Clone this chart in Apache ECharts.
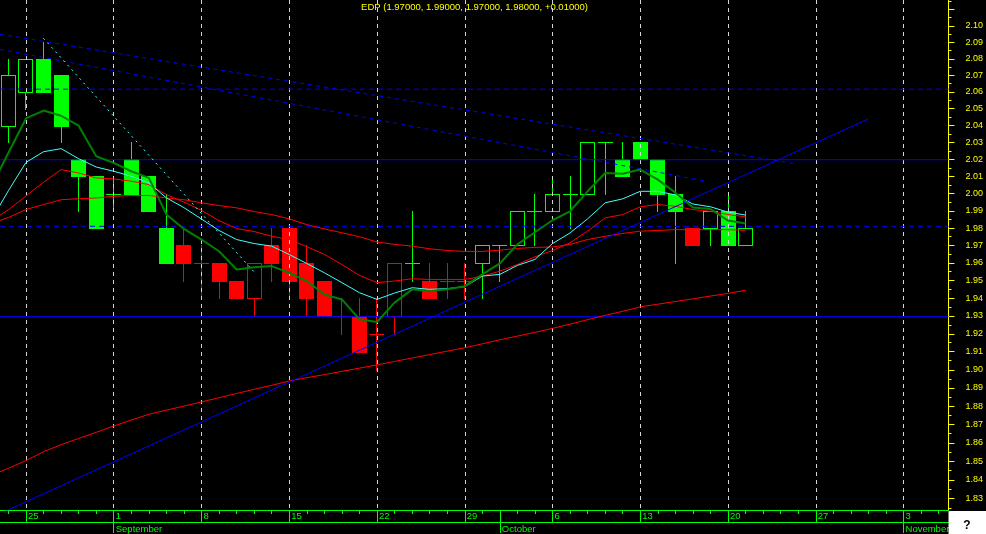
<!DOCTYPE html>
<html>
<head>
<meta charset="utf-8">
<script src="https://cdn.jsdelivr.net/npm/echarts@6/dist/echarts.min.js"></script>
<style>
  html, body { margin: 0; padding: 0; background: #000; }
  #chart { width: 986px; height: 534px; }
</style>
</head>
<body>
<div id="chart"></div>
<script>
// ---- data -------------------------------------------------------------
const SYMBOL = 'EDP';

// trading sessions (index 0 = the session before the first drawn candle)
const sessions = [
  '2008-08-21', '2008-08-22',
  '2008-08-25', '2008-08-26', '2008-08-27', '2008-08-28', '2008-08-29',
  '2008-09-01', '2008-09-02', '2008-09-03', '2008-09-04', '2008-09-05',
  '2008-09-08', '2008-09-09', '2008-09-10', '2008-09-11', '2008-09-12',
  '2008-09-15', '2008-09-16', '2008-09-17', '2008-09-18', '2008-09-19',
  '2008-09-22', '2008-09-23', '2008-09-24', '2008-09-25', '2008-09-26',
  '2008-09-29', '2008-09-30', '2008-10-01', '2008-10-02', '2008-10-03',
  '2008-10-06', '2008-10-07', '2008-10-08', '2008-10-09', '2008-10-10',
  '2008-10-13', '2008-10-14', '2008-10-15', '2008-10-16', '2008-10-17',
  '2008-10-20', '2008-10-21', '2008-10-22', '2008-10-23', '2008-10-24',
  '2008-10-27', '2008-10-28', '2008-10-29', '2008-10-30', '2008-10-31',
  '2008-11-03', '2008-11-04', '2008-11-05'
];
const monthNames = ['January', 'February', 'March', 'April', 'May', 'June', 'July',
  'August', 'September', 'October', 'November', 'December'];

// daily bars, first one on session index 1
const candleStart = 1;
const open  = [2.04, 2.06, 2.08, 2.07, 2.02, 2.01, 2.00, 2.02, 2.01, 1.98,
               1.97, 1.96, 1.96, 1.95, 1.94, 1.97, 1.98, 1.96, 1.95, 1.93,
               1.93, 1.92, 1.93, 1.96, 1.95, 1.95, 1.95, 1.96, 1.97, 1.97,
               1.99, 1.99, 2.00, 2.00, 2.03, 2.02, 2.03, 2.02, 2.00, 1.98,
               1.98, 1.99, 1.97];
const high  = [2.08, 2.08, 2.09, 2.07, 2.02, 2.01, 2.01, 2.03, 2.01, 2.00,
               1.98, 1.97, 1.96, 1.95, 1.96, 1.98, 1.98, 1.97, 1.95, 1.94,
               1.94, 1.94, 1.96, 1.99, 1.96, 1.96, 1.96, 1.97, 1.97, 1.99,
               2.00, 2.01, 2.01, 2.03, 2.03, 2.03, 2.03, 2.02, 2.01, 1.98,
               1.99, 2.00, 1.99];
const low   = [2.03, 2.05, 2.06, 2.03, 1.99, 1.98, 1.99, 2.00, 1.99, 1.96,
               1.95, 1.94, 1.94, 1.94, 1.93, 1.95, 1.94, 1.93, 1.93, 1.92,
               1.91, 1.90, 1.92, 1.95, 1.94, 1.94, 1.94, 1.94, 1.95, 1.97,
               1.97, 1.99, 1.98, 2.00, 2.00, 2.01, 2.02, 1.99, 1.96, 1.97,
               1.97, 1.97, 1.97];
const close = [2.07, 2.08, 2.06, 2.04, 2.01, 1.98, 2.00, 2.00, 1.99, 1.96,
               1.96, 1.96, 1.95, 1.94, 1.96, 1.96, 1.95, 1.94, 1.93, 1.93,
               1.91, 1.92, 1.96, 1.96, 1.94, 1.95, 1.95, 1.97, 1.97, 1.99,
               1.99, 2.00, 2.00, 2.03, 2.03, 2.01, 2.02, 2.00, 1.99, 1.97,
               1.99, 1.97, 1.98];
// bar colouring: 1 = up trend (green), -1 = down trend (red)
const barTrend = [1, 1, 1, 1, 1, 1, 1, 1, 1, 1,
                  -1, -1, -1, -1, -1, -1, -1, -1, -1, -1,
                  -1, -1, -1, 1, -1, -1, -1, 1, 1, 1,
                  1, 1, 1, 1, 1, 1, 1, 1, 1, -1,
                  1, 1, 1];

// moving averages, first value on session index 0
const maStart = 0;
const maShort = [2.0035, 2.0239, 2.0442, 2.0489, 2.0458, 2.0399, 2.0218, 2.0179, 2.0130, 2.0091,
                 1.9878, 1.9795, 1.9734, 1.9667, 1.9563, 1.9576, 1.9582, 1.9544, 1.9497, 1.9421,
                 1.9393, 1.9281, 1.9266, 1.9375, 1.9450, 1.9439, 1.9450, 1.9468, 1.9535, 1.9597,
                 1.9706, 1.9776, 1.9845, 1.9897, 2.0013, 2.0120, 2.0116, 2.0140, 2.0081, 2.0005,
                 1.9919, 1.9910, 1.9843, 1.9826];
const maMedium = [1.9841, 2.0017, 2.0182, 2.0245, 2.0263, 2.0204, 2.0155, 2.0130, 2.0101, 2.0062,
                  1.9975, 1.9918, 1.9852, 1.9786, 1.9734, 1.9711, 1.9696, 1.9648, 1.9597, 1.9544,
                  1.9488, 1.9431, 1.9393, 1.9429, 1.9459, 1.9450, 1.9454, 1.9465, 1.9525, 1.9535,
                  1.9586, 1.9620, 1.9711, 1.9772, 1.9853, 1.9946, 1.9969, 2.0013, 2.0013, 1.9992,
                  1.9939, 1.9923, 1.9892, 1.9875];
const maRedFast = [1.9838, 1.9906, 1.9986, 2.0066, 2.0140, 2.0120, 2.0091, 2.0085, 2.0072, 2.0052,
                   1.9994, 1.9950, 1.9902, 1.9843, 1.9797, 1.9780, 1.9753, 1.9734, 1.9693, 1.9649,
                   1.9591, 1.9529, 1.9488, 1.9497, 1.9510, 1.9506, 1.9506, 1.9506, 1.9525, 1.9553,
                   1.9591, 1.9635, 1.9671, 1.9715, 1.9782, 1.9859, 1.9878, 1.9923, 1.9936, 1.9926,
                   1.9907, 1.9897, 1.9878, 1.9865];
const maRedSlow = [1.9826, 1.9861, 1.9907, 1.9936, 1.9964, 1.9970, 1.9974, 1.9984, 1.9988, 1.9989,
                   1.9974, 1.9964, 1.9946, 1.9930, 1.9917, 1.9895, 1.9878, 1.9853, 1.9820, 1.9795,
                   1.9773, 1.9750, 1.9720, 1.9706, 1.9696, 1.9681, 1.9671, 1.9666, 1.9666, 1.9673,
                   1.9683, 1.9689, 1.9691, 1.9706, 1.9734, 1.9753, 1.9769, 1.9782, 1.9786, 1.9791,
                   1.9791, 1.9791, 1.9791, 1.9787];
const maLong = [1.8423, 1.8463, 1.8504, 1.8552, 1.8590, 1.8624, 1.8657, 1.8691, 1.8724, 1.8755,
                1.8778, 1.8800, 1.8823, 1.8846, 1.8869, 1.8892, 1.8914, 1.8938, 1.8956, 1.8973,
                1.8991, 1.9009, 1.9027, 1.9046, 1.9065, 1.9084, 1.9103, 1.9122, 1.9144, 1.9166,
                1.9187, 1.9208, 1.9230, 1.9254, 1.9279, 1.9303, 1.9326, 1.9351, 1.9366, 1.9381,
                1.9396, 1.9412, 1.9427, 1.9445];

// hand-drawn studies: [session index, price]
const channelUpper = [[0.52, 2.0949], [45.91, 2.0173]];
const channelLower = [[0.52, 2.0857], [40.76, 2.0072]];
const pullbackLine = [[2.99, 2.0925], [15.04, 1.9544]];
const supportLine  = [[0.52, 1.8221], [49.97, 2.0438]];
const levelsDashed = [2.0617, 1.9810];
const levelsSolid  = [2.0198, 1.9296];

// visible ranges and price scale labels
const sessionRange = [0.5194, 54.562];
const priceRange = [1.8240, 2.1159];
const priceLabels = [1.83, 1.84, 1.85, 1.86, 1.87, 1.88, 1.89, 1.90, 1.91, 1.92,
                     1.93, 1.94, 1.95, 1.96, 1.97, 1.98, 1.99, 2.00, 2.01, 2.02,
                     2.03, 2.04, 2.05, 2.06, 2.07, 2.08, 2.09, 2.10];
const priceTicks = priceLabels.concat([2.11]);

// ---- build ------------------------------------------------------------
const ln = Math.log;
const FONT = 'Liberation Sans, Arial, sans-serif';
const GREEN = '#00ff00', RED = '#ff0000', YELLOW = '#ffff00', BLUE = '#0000ff';

const dates = sessions.map(s => new Date(s + 'T00:00:00Z'));
const allIdx = sessions.map((_, i) => i).filter(i => i >= 1);
const mondays = allIdx.filter(i => dates[i].getUTCDay() === 1);
const monthStarts = allIdx.filter(i => dates[i].getUTCMonth() !== dates[i - 1].getUTCMonth());
const halfTicks = priceTicks.map(p => ln(p - 0.005)).concat([ln(2.115)]);

// [session, open, close, low, high, trend]
const candleData = open.map((o, k) =>
  [candleStart + k, ln(o), ln(close[k]), ln(low[k]), ln(high[k]), barTrend[k]]);

// pixel-snapped candle built from 1px filled rectangles:
// hollow body when close > open, solid body when close < open
function renderCandle(params, api) {
  const x = api.value(0);
  const o = api.value(1), c = api.value(2);
  const pO = api.coord([x, o]), pC = api.coord([x, c]);
  const yL = Math.round(api.coord([x, api.value(3)])[1]);
  const yH = Math.round(api.coord([x, api.value(4)])[1]);
  const cx = Math.round(pO[0] - 0.5);
  const yTop = Math.round(Math.min(pO[1], pC[1]));
  const yBot = Math.round(Math.max(pO[1], pC[1]));
  const fill = { fill: api.value(5) > 0 ? GREEN : RED };
  const box = (bx, by, bw, bh) => ({ type: 'rect', shape: { x: bx, y: by, width: bw, height: bh }, style: fill });
  const kids = [];
  if (yH < yTop) kids.push(box(cx, yH, 1, yTop - yH));
  if (yL > yBot) kids.push(box(cx, yBot + 1, 1, yL - yBot));
  const h = yBot - yTop + 1;
  if (h <= 1 || c < o) {
    kids.push(box(cx - 7, yTop, 15, h));
  } else {
    kids.push(box(cx - 7, yTop, 15, 1), box(cx - 7, yBot, 15, 1),
              box(cx - 7, yTop, 1, h), box(cx + 7, yTop, 1, h));
  }
  return { type: 'group', children: kids };
}

const maSeries = arr => arr.map((v, k) => [maStart + k, ln(v)]);
const segment = pts => pts.map(p => [p[0], ln(p[1])]);
const level = p => [[sessionRange[0], ln(p)], [sessionRange[1], ln(p)]];

const last = open.length - 1;
const titleText = SYMBOL + ' (' + [open[last], high[last], low[last], close[last]]
  .map(v => v.toFixed(5)).join(', ') + ', +' + (close[last] - close[last - 1]).toFixed(5) + ')';

function lineSeries(data, color, width, type, z) {
  return {
    type: 'line', data: data, showSymbol: false, symbol: 'none', silent: true,
    clip: true, z: z || 4, animation: false,
    lineStyle: { color: color, width: width, type: type || 'solid' }
  };
}

const xBase = {
  type: 'value', min: sessionRange[0], max: sessionRange[1], position: 'bottom',
  splitLine: { show: false }, axisLabel: { show: false }
};

const chart = echarts.init(document.getElementById('chart'), null, { renderer: 'canvas' });
chart.setOption({
  backgroundColor: '#000',
  animation: false,
  grid: { left: 0, top: 0, width: 949, height: 511, containLabel: false },
  xAxis: [
    Object.assign({}, xBase, {
      axisLine: { show: true, onZero: false, lineStyle: { color: GREEN, width: 1 } },
      axisTick: { show: true, customValues: allIdx, length: 4, lineStyle: { color: GREEN } }
    }),
    Object.assign({}, xBase, {
      axisLine: { show: false, onZero: false },
      axisTick: { show: true, customValues: mondays.concat(monthStarts), length: 12,
                  lineStyle: { color: GREEN } },
      axisLabel: {
        show: true, customValues: mondays, margin: 1.5, align: 'left', padding: [0, 0, 0, 2],
        color: GREEN, fontSize: 9.5, fontFamily: FONT,
        formatter: v => String(dates[Math.round(v)].getUTCDate())
      }
    }),
    Object.assign({}, xBase, {
      offset: 12,
      axisLine: { show: true, onZero: false, lineStyle: { color: GREEN, width: 1 } },
      axisTick: { show: true, customValues: monthStarts, length: 11, lineStyle: { color: GREEN } },
      axisLabel: {
        show: true, customValues: monthStarts, margin: 2, align: 'left', padding: [0, 0, 0, 2],
        color: GREEN, fontSize: 9.5, fontFamily: FONT,
        formatter: v => monthNames[dates[Math.round(v)].getUTCMonth()]
      }
    }),
    // weekly grid, drawn above the bars
    Object.assign({}, xBase, {
      z: 3,
      axisLine: { show: false, onZero: false },
      axisTick: { show: false, customValues: mondays },
      splitLine: { show: true, lineStyle: { color: '#d4d4d4', width: 1, type: [4, 4] } }
    })
  ],
  yAxis: [
    {
      type: 'value', position: 'right', min: ln(priceRange[0]), max: ln(priceRange[1]),
      axisLine: { show: true, onZero: false, lineStyle: { color: YELLOW, width: 1 } },
      axisTick: { show: true, customValues: priceTicks.map(ln), length: 6, lineStyle: { color: YELLOW } },
      axisLabel: {
        show: true, customValues: priceLabels.map(ln), margin: 17, color: YELLOW,
        fontSize: 9, fontFamily: FONT, formatter: v => Math.exp(v).toFixed(2)
      },
      splitLine: { show: false }
    },
    {
      type: 'value', position: 'right', min: ln(priceRange[0]), max: ln(priceRange[1]),
      axisLine: { show: false, onZero: false },
      axisTick: { show: true, customValues: halfTicks, length: 3, lineStyle: { color: YELLOW } },
      axisLabel: { show: false }, splitLine: { show: false }
    }
  ],
  series: [
    {
      type: 'custom', data: candleData, renderItem: renderCandle, z: 2, silent: true,
      clip: true, encode: { x: 0, y: [1, 2, 3, 4] }
    },
    ...levelsDashed.map(p => lineSeries(level(p), BLUE, 1, [5, 4])),
    ...levelsSolid.map(p => lineSeries(level(p), BLUE, 1, 'solid')),
    lineSeries(maSeries(maLong), RED, 1),
    lineSeries(maSeries(maRedSlow), RED, 1),
    lineSeries(maSeries(maRedFast), RED, 1),
    lineSeries(maSeries(maMedium), '#40ffff', 1),
    lineSeries(maSeries(maShort), '#008000', 2, 'solid', 5),
    lineSeries(segment(channelUpper), BLUE, 1, [4, 4]),
    lineSeries(segment(channelLower), BLUE, 1, [4, 4]),
    lineSeries(segment(pullbackLine), '#40ffff', 1, [2, 4]),
    lineSeries(segment(supportLine), BLUE, 1, 'solid')
  ],
  graphic: [
    { type: 'text', x: 474.5, y: 7, z: 10,
      style: { text: titleText, fill: YELLOW, font: '9.5px ' + FONT, textAlign: 'center', textVerticalAlign: 'middle' } },
    { type: 'rect', z: 10, shape: { x: 948.5, y: 511, width: 38, height: 23 }, style: { fill: '#ffffff' } },
    { type: 'text', x: 967, y: 526, z: 11,
      style: { text: '?', fill: '#000', font: 'bold 12px ' + FONT, textAlign: 'center', textVerticalAlign: 'middle' } }
  ]
});
</script>
</body>
</html>
